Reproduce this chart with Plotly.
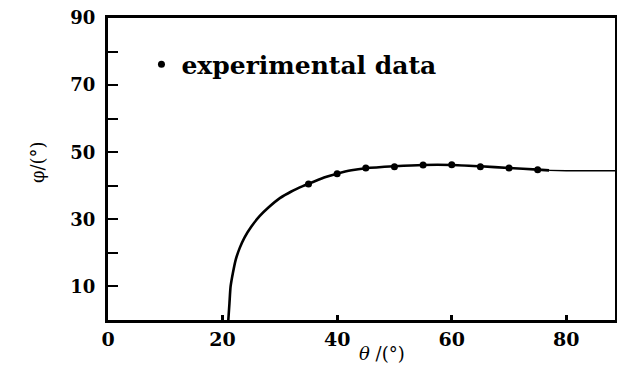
import plotly.graph_objects as go

# Fitted curve
curve_theta = [21.0, 21.2, 21.4, 21.8, 22.3, 23.0, 23.8, 25.0, 26.5, 28.0, 30.0, 32.0, 34.0, 36.0,
               38.0, 40.0, 42.5, 45.0, 50.0, 55.0, 60.0, 65.0, 70.0, 75.0, 77.0]
curve_phi = [0.0, 5.0, 10.0, 14.0, 18.0, 21.5, 24.5, 27.8, 31.0, 33.5, 36.3, 38.3, 39.9, 41.3,
             42.6, 43.6, 44.6, 45.2, 45.8, 46.2, 46.2, 45.8, 45.3, 44.8, 44.6]
tail_theta = [77, 80, 89]
tail_phi = [44.6, 44.5, 44.5]

# Experimental data points
exp_theta = [35, 40, 45, 50, 55, 60, 65, 70, 75]
exp_phi = [40.5, 43.6, 45.3, 45.7, 46.2, 46.3, 45.7, 45.3, 44.8]

x_ticks = [0, 20, 40, 60, 80]
y_ticks = [10, 20, 30, 40, 50, 60, 70, 80, 90]
y_ticktext = ["10", "", "30", "", "50", "", "70", "", "90"]

FONT = "DejaVu Serif"

fig = go.Figure()
fig.add_trace(go.Scatter(x=curve_theta, y=curve_phi, mode="lines",
                         line=dict(color="black", width=2.6, shape="spline", smoothing=0.6),
                         showlegend=False, hoverinfo="skip"))
fig.add_trace(go.Scatter(x=tail_theta, y=tail_phi, mode="lines",
                         line=dict(color="black", width=1.4),
                         showlegend=False, hoverinfo="skip"))
fig.add_trace(go.Scatter(x=exp_theta, y=exp_phi, mode="markers",
                         marker=dict(color="black", size=7, symbol="circle"),
                         name="<b>experimental data</b>", showlegend=True))

fig.update_layout(
    width=617, height=359,
    margin=dict(l=100, r=10, t=10, b=47),
    paper_bgcolor="white", plot_bgcolor="white",
    font=dict(family=FONT, color="black"),
    legend=dict(x=0.066, y=0.922, xanchor="left", yanchor="top",
                bgcolor="rgba(0,0,0,0)", font=dict(family=FONT, size=25, color="black"),
                itemwidth=30),
    xaxis=dict(range=[0, 88.5], tickvals=x_ticks, ticktext=["<b>%d</b>" % v for v in x_ticks],
               ticks="inside", ticklen=5, tickwidth=3,
               tickcolor="black", showline=True, linecolor="black", linewidth=3, mirror=True,
               showgrid=False, zeroline=False, automargin=False,
               tickfont=dict(family=FONT, size=19, color="black")),
    yaxis=dict(range=[0, 90], tickvals=y_ticks, ticktext=["<b>%s</b>" % t for t in y_ticktext],
               ticks="inside", ticklen=10,
               tickwidth=2, tickcolor="black", showline=True, linecolor="black", linewidth=3,
               mirror=True, showgrid=False, zeroline=False, automargin=False,
               ticklabeloverflow="allow",
               tickfont=dict(family=FONT, size=18, color="black"),
               ticklabelstandoff=6),
    annotations=[
        dict(text="<i>θ</i> /(°)", xref="paper", yref="paper", x=0.54, y=-0.11,
             xanchor="center", yanchor="middle", showarrow=False,
             font=dict(family=FONT, size=18, color="black")),
        dict(text="φ/(°)", xref="paper", yref="paper", x=-0.14, y=0.523,
             xanchor="center", yanchor="middle", textangle=-90, showarrow=False,
             font=dict(family=FONT, size=18, color="black")),
    ],
)

fig.write_html("out.html")
